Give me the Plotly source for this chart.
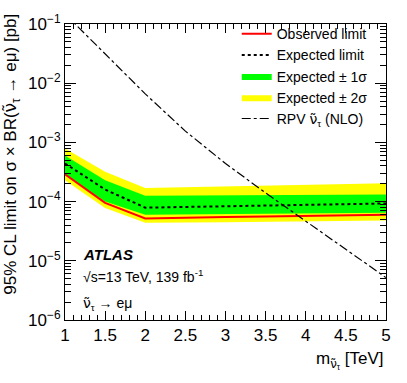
import plotly.graph_objects as go

# signal mass points [TeV]
mass = [1.0, 1.5, 2.0, 2.5, 3.0, 3.5, 4.0, 4.5, 5.0]

# limits on sigma x BR [pb]
observed = [2.9e-4, 9.5e-5, 5.2e-5, 5.4e-5, 5.5e-5, 5.6e-5, 5.75e-5, 5.9e-5, 6.0e-5]
expected = [4.4e-4, 1.6e-4, 7.9e-5, 8.1e-5, 8.3e-5, 8.5e-5, 8.9e-5, 9.1e-5, 9.3e-5]
exp_1s_up = [6.0e-4, 2.3e-4, 1.25e-4, 1.26e-4, 1.27e-4, 1.29e-4, 1.30e-4, 1.31e-4, 1.32e-4]
exp_1s_dn = [2.8e-4, 1.0e-4, 6.0e-5, 6.1e-5, 6.2e-5, 6.25e-5, 6.3e-5, 6.4e-5, 6.5e-5]
exp_2s_up = [7.9e-4, 3.2e-4, 1.7e-4, 1.75e-4, 1.8e-4, 1.85e-4, 1.9e-4, 1.97e-4, 2.04e-4]
exp_2s_dn = [2.3e-4, 7.8e-5, 4.4e-5, 4.45e-5, 4.5e-5, 4.55e-5, 4.65e-5, 4.7e-5, 4.8e-5]

# RPV sneutrino NLO cross section [pb]
rpv_mass = [1.0, 1.5, 2.0, 2.5, 3.0, 3.5, 4.0, 4.5, 5.0]
rpv_xsec = [1.48e-1, 3.1e-2, 6.6e-3, 1.55e-3, 4.4e-4, 1.4e-4, 4.7e-5, 1.55e-5, 5.2e-6]

y_tickvals = [1e-6, 1e-5, 1e-4, 1e-3, 1e-2, 1e-1]
y_ticktext = ["10<sup>\u22126</sup>", "10<sup>\u22125</sup>", "10<sup>\u22124</sup>",
              "10<sup>\u22123</sup>", "10<sup>\u22122</sup>", "10<sup>\u22121</sup>"]

FONT = "Liberation Sans, Arial, Helvetica, sans-serif"
# nu with tilde; DejaVu places the combining tilde properly
SNU = "<span style='font-family:DejaVu Sans'>\u03bd\u0303</span>"

# ROOT-like minor ticks at 2..9 in every decade
y_minor = [m * d for d in y_tickvals[:-1] for m in range(2, 10)]


def band(up, dn):
    return mass + mass[::-1], up + dn[::-1]


fig = go.Figure()

bx, by = band(exp_2s_up, exp_2s_dn)
fig.add_trace(go.Scatter(x=bx, y=by, fill="toself", fillcolor="#ffff00",
                         line=dict(width=0), mode="lines", name="Expected \u00b1 2\u03c3",
                         legendrank=4, hoverinfo="skip"))
bx, by = band(exp_1s_up, exp_1s_dn)
fig.add_trace(go.Scatter(x=bx, y=by, fill="toself", fillcolor="#00ff00",
                         line=dict(width=0), mode="lines", name="Expected \u00b1 1\u03c3",
                         legendrank=3, hoverinfo="skip"))
fig.add_trace(go.Scatter(x=mass, y=expected, mode="lines", name="Expected limit",
                         line=dict(color="black", width=2, dash="dot"), legendrank=2))
fig.add_trace(go.Scatter(x=mass, y=observed, mode="lines", name="Observed limit",
                         line=dict(color="red", width=2), legendrank=1))
fig.add_trace(go.Scatter(x=rpv_mass, y=rpv_xsec, mode="lines",
                         name="RPV " + SNU + "<sub>\u03c4</sub> (NLO)",
                         line=dict(color="black", width=1.2, dash="dashdot"), legendrank=5))

fig.update_layout(
    width=407, height=383,
    margin=dict(l=65, r=21, t=19, b=63),
    plot_bgcolor="white", paper_bgcolor="white",
    font=dict(family=FONT, color="black", size=17),
    showlegend=True,
    legend=dict(x=0.535, y=1.02, xanchor="left", yanchor="top",
                bgcolor="rgba(0,0,0,0)", font=dict(size=14), tracegroupgap=0,
                itemwidth=30),
)

fig.update_xaxes(
    range=[1, 5], showgrid=False, zeroline=False,
    showline=True, linecolor="black", linewidth=1, mirror="allticks",
    ticks="inside", ticklen=9, tickcolor="black", dtick=0.5, tick0=1,
    minor=dict(ticks="inside", ticklen=5, dtick=0.1, tickcolor="black", showgrid=False),
    tickfont=dict(size=17),
)
fig.update_yaxes(
    type="log", range=[-6, -1], showgrid=False, zeroline=False,
    showline=True, linecolor="black", linewidth=1, mirror="allticks",
    ticks="inside", ticklen=11, tickcolor="black",
    tickvals=y_tickvals, ticktext=y_ticktext,
    minor=dict(ticks="inside", ticklen=6, tickcolor="black", showgrid=False,
               tickmode="array", tickvals=y_minor),
    tickfont=dict(size=17),
)

# axis titles as annotations (ROOT style: aligned to the axis end)
fig.add_annotation(
    text="95% CL limit on \u03c3 \u00d7 BR(" + SNU + "<sub>\u03c4</sub> \u2192 e\u03bc) [pb]",
    xref="paper", yref="paper", x=-0.165, y=1.04, xanchor="center", yanchor="top",
    textangle=-90, showarrow=False, font=dict(size=17),
)
fig.add_annotation(
    text="m<sub>" + SNU + "<sub>\u03c4</sub></sub> [TeV]",
    xref="paper", yref="paper", x=1.0, y=-0.09, xanchor="right", yanchor="top",
    showarrow=False, font=dict(size=17),
)

# ATLAS labels
fig.add_annotation(text="<b><i>ATLAS</i></b>", xref="paper", yref="paper",
                   x=0.05, y=0.22, xanchor="left", yanchor="middle",
                   showarrow=False, font=dict(size=15))
fig.add_annotation(text="\u221as=13 TeV, 139 fb<sup>-1</sup>", xref="paper", yref="paper",
                   x=0.05, y=0.15, xanchor="left", yanchor="middle",
                   showarrow=False, font=dict(size=14))
fig.add_annotation(text=SNU + "<sub>\u03c4</sub> \u2192 e\u03bc", xref="paper", yref="paper",
                   x=0.05, y=0.055, xanchor="left", yanchor="middle",
                   showarrow=False, font=dict(size=14))

# drop the browser's default 8px body margin so the figure sits at the page corner
fig.write_html("out.html", config={"displayModeBar": False},
               post_script="document.body.style.margin='0';")
